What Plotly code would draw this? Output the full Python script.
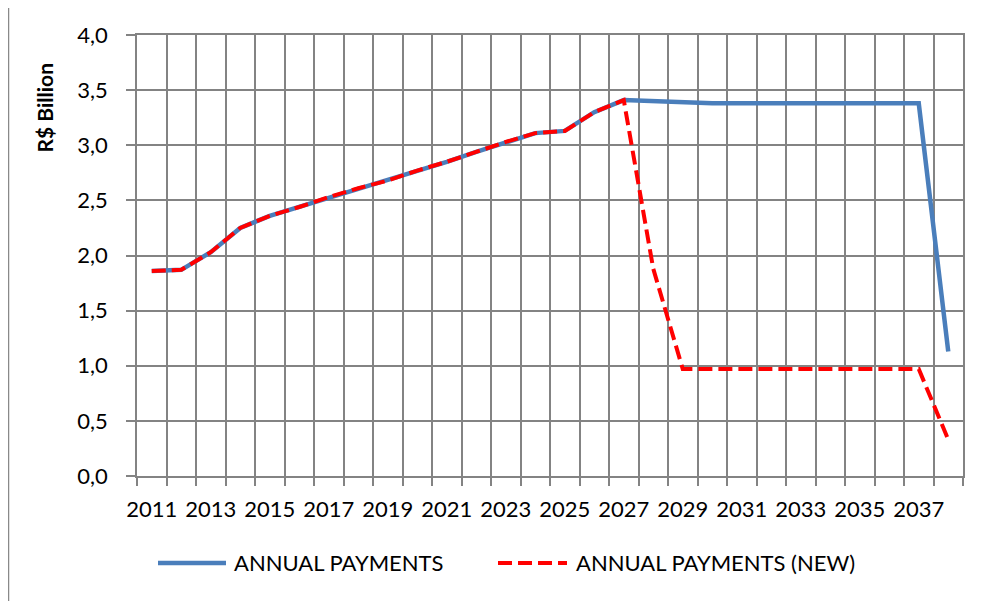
import plotly.graph_objects as go

years = list(range(2011, 2039))
annual_payments = [1.86, 1.87, 2.03, 2.25, 2.36, 2.44, 2.53, 2.61, 2.68, 2.77,
                   2.85, 2.94, 3.03, 3.11, 3.13, 3.30, 3.41, 3.40, 3.38, 3.38,
                   3.38, 3.38, 3.38, 3.38, 3.38, 3.38, 3.38, 1.13]
annual_payments_new = [1.86, 1.87, 2.03, 2.25, 2.36, 2.44, 2.53, 2.61, 2.68, 2.77,
                       2.85, 2.94, 3.03, 3.11, 3.13, 3.30, 3.41, 1.88, 0.97, 0.97,
                       0.97, 0.97, 0.97, 0.97, 0.97, 0.97, 0.97, 0.33]
x_tick_years = list(range(2011, 2038, 2))
x_tick_labels = [str(y) for y in x_tick_years]
series_names = ["ANNUAL PAYMENTS", "ANNUAL PAYMENTS (NEW)"]
y_title = "R$ Billion"

BLUE = "#4A7EBB"
RED = "#FF0000"
GRID = "#838383"
FONT = "Lato"

fig = go.Figure()
fig.add_trace(go.Scatter(x=years, y=annual_payments, mode="lines", name=series_names[0],
                         line=dict(color=BLUE, width=4.5), showlegend=False))
fig.add_trace(go.Scatter(x=years, y=annual_payments_new, mode="lines", name=series_names[1],
                         line=dict(color=RED, width=4, dash="14px,6px"), showlegend=False))

# page body offset (default html body margin)
OFF = 8
W, H = 992 - OFF, 601 - OFF
# plot area in window coordinates
PX0, PX1, PY0, PY1 = 137, 963, 34.5, 476
L, R, T, B = PX0 - OFF, W - (PX1 - OFF), PY0 - OFF, H - (PY1 - OFF)
pw, ph = PX1 - PX0, PY1 - PY0

def px(xw):
    return (xw - PX0) / pw

def py(yw):
    return (PY1 - yw) / ph

fig.update_layout(
    width=W, height=H,
    margin=dict(l=L, r=R, t=T, b=B, pad=0),
    paper_bgcolor="white", plot_bgcolor="white",
    separators=",.",
    font=dict(family=FONT, size=22, color="black"),
    showlegend=False,
)
fig.update_xaxes(
    range=[2010.5, 2038.5],
    tickvals=x_tick_years, ticktext=x_tick_labels,
    ticks="", showgrid=False, zeroline=False,
    ticklabelstandoff=13,
    tickfont=dict(family=FONT, size=22, color="black"),
    showline=True, linecolor=GRID, linewidth=1.5, mirror=True,
    minor=dict(tick0=2010.5, dtick=1, showgrid=True, gridcolor=GRID, gridwidth=1.5,
               ticks="outside", ticklen=8, tickcolor=GRID, tickwidth=1.5),
)
fig.update_yaxes(
    range=[0, 4], dtick=0.5, tickformat=".1f",
    showgrid=True, gridcolor=GRID, gridwidth=1.5, zeroline=False,
    ticks="outside", ticklen=9, tickcolor=GRID, tickwidth=1.5,
    ticklabelstandoff=14,
    tickfont=dict(family=FONT, size=22, color="black"),
    showline=True, linecolor=GRID, linewidth=1.5, mirror=True,
)

shapes = [
    dict(type="line", xref="paper", yref="paper", x0=px(8), x1=px(8), y0=py(6), y1=py(610),
         line=dict(color="#898989", width=2.5)),
    dict(type="line", xref="paper", yref="paper", x0=px(8), x1=px(1000), y0=py(6), y1=py(6),
         line=dict(color="#898989", width=2.5)),
    dict(type="line", xref="paper", yref="paper", x0=px(158), x1=px(226), y0=py(563), y1=py(563),
         line=dict(color=BLUE, width=4.5)),
    dict(type="line", xref="paper", yref="paper", x0=px(498), x1=px(567), y0=py(563), y1=py(563),
         line=dict(color=RED, width=4, dash="14px,6px")),
]
annotations = [
    dict(text=series_names[0], xref="paper", yref="paper", x=px(232), y=py(563),
         xanchor="left", yanchor="middle", showarrow=False,
         font=dict(family=FONT, size=22, color="black")),
    dict(text=series_names[1], xref="paper", yref="paper", x=px(574), y=py(563),
         xanchor="left", yanchor="middle", showarrow=False,
         font=dict(family=FONT, size=22, color="black")),
    dict(text="<b>" + y_title + "</b>", xref="paper", yref="paper", x=px(44), y=py(108),
         xanchor="center", yanchor="middle", textangle=-90, showarrow=False,
         font=dict(family=FONT, size=21, color="black")),
]
fig.update_layout(shapes=shapes, annotations=annotations)

fig.write_html("out.html")
